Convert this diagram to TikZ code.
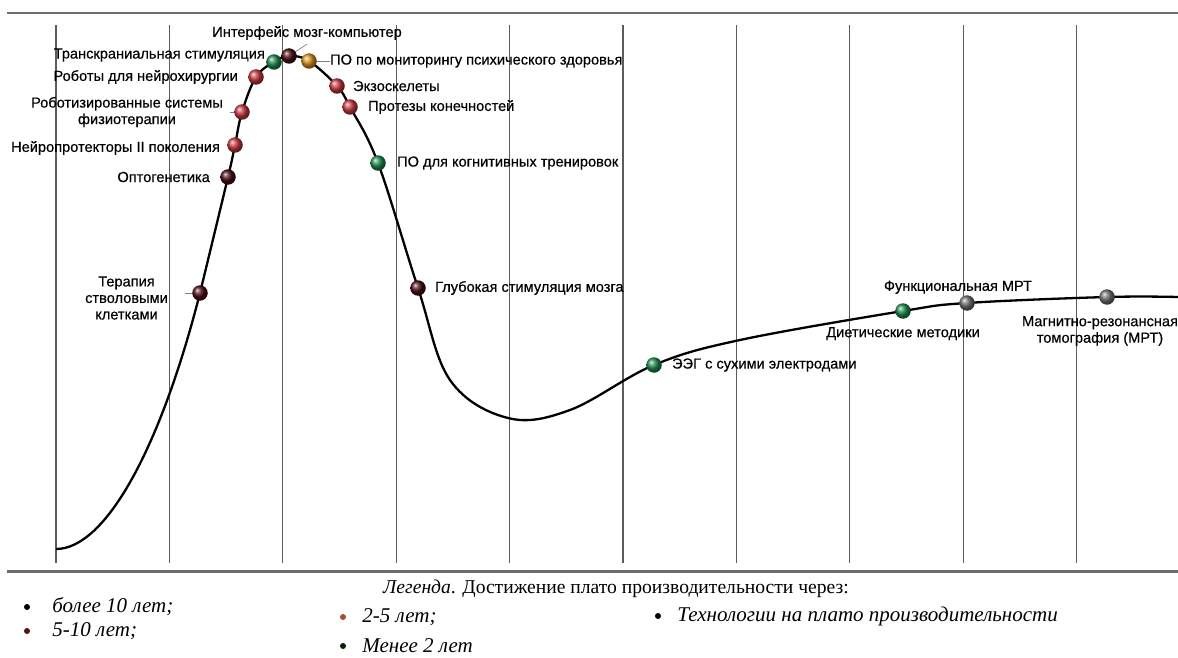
\documentclass[tikz,border=0pt]{standalone}
\usepackage{fontspec}
\setmainfont{Liberation Serif}
\newfontfamily\labelfont[FakeBold=0.4]{Liberation Sans}
\usetikzlibrary{positioning, backgrounds}
\definecolor{gridgray}{HTML}{5C5C5C}
\definecolor{dotdark}{HTML}{4A0C12}
\definecolor{dotred}{HTML}{C93A40}
\definecolor{dotgreen}{HTML}{1E8C4E}
\definecolor{dotorange}{HTML}{D8921C}
\definecolor{dotgray}{HTML}{707070}
\definecolor{legred}{HTML}{5A0F14}
\definecolor{legbrown}{HTML}{A0522D}
\tikzset{
  gridline/.style={gridgray, line width=1.1pt},
  rule/.style={gray!85!black, line width=2pt},
  hype/.style={black, line width=2.3pt, line join=round},
  ball/.style={circle, minimum size=15.5pt, inner sep=0pt, shading=ball},
  darkball/.style={ball, ball color=dotdark},
  redball/.style={ball, ball color=dotred},
  greenball/.style={ball, ball color=dotgreen},
  orangeball/.style={ball, ball color=dotorange},
  grayball/.style={ball, ball color=dotgray},
  lbl/.style={font=\labelfont\fontsize{14.6}{16.5}\selectfont, inner sep=0pt, align=center},
  leader/.style={gray, line width=0.7pt},
  legdot/.style={circle, minimum size=6pt, inner sep=0pt},
  legtext/.style={font=\itshape\fontsize{21}{24}\selectfont, inner sep=0pt}
}
\begin{document}
\begin{tikzpicture}[x=1pt, y=-1pt]
  \useasboundingbox (0,0) rectangle (1178,658);

  % technologies on the curve
  \node[darkball]   (dstem)  at (200,293) {};
  \node[darkball]   (dopto)  at (228,177) {};
  \node[redball]    (dneuro) at (235,145) {};
  \node[redball]    (dphys)  at (242,112) {};
  \node[redball]    (drob)   at (256,77)  {};
  \node[greenball]  (dtrans) at (274,62)  {};
  \node[darkball]   (dbci)   at (289,56)  {};
  \node[orangeball] (dmon)   at (309,61)  {};
  \node[redball]    (dexo)   at (337,86)  {};
  \node[redball]    (dprot)  at (350,107) {};
  \node[greenball]  (dcog)   at (378,163) {};
  \node[darkball]   (ddbs)   at (418,288) {};
  \node[greenball]  (deeg)   at (654,365) {};
  \node[greenball]  (dfood)  at (903,311) {};
  \node[grayball]   (dfmri)  at (967,303) {};
  \node[grayball]   (dmri)   at (1107,297) {};

  \node[lbl, anchor=east] (lstem) at (168,298) {Терапия\\стволовыми\\клетками};
  \node[lbl, left=10pt of dopto]  (lopto)  {Оптогенетика};
  \node[lbl, left=7pt of dneuro, yshift=-3pt] (lneuro) {Нейропротекторы II поколения};
  \node[lbl, left=11pt of dphys] (lphys) {Роботизированные системы\\физиотерапии};
  \node[lbl, left=10pt of drob]   (lrob)   {Роботы для нейрохирургии};
  \node[lbl, left=1pt of dtrans, yshift=7pt] (ltrans) {Транскраниальная стимуляция};
  \node[lbl] (lbci) at (307,33) {Интерфейс мозг-компьютер};
  \node[lbl, right=13pt of dmon]  (lmon)  {ПО по мониторингу психического здоровья};
  \node[lbl, right=8pt of dexo]   (lexo)  {Экзоскелеты};
  \node[lbl, right=10pt of dprot] (lprot) {Протезы конечностей};
  \node[lbl, right=11pt of dcog]  (lcog)  {ПО для когнитивных тренировок};
  \node[lbl, right=9pt of ddbs]   (ldbs)  {Глубокая стимуляция мозга};
  \node[lbl, right=10pt of deeg]  (leeg)  {ЭЭГ с сухими электродами};
  \node[lbl, below=8pt of dfood]  (lfood) {Диетические методики};
  \node[lbl, above=1pt of dfmri, xshift=-9pt] (lfmri) {Функциональная МРТ};
  \node[lbl, below=11pt of dmri, xshift=-7pt] (lmri) {Магнитно-резонансная\\томография (МРТ)};

  % legend
  \node[font=\fontsize{19.6}{22}\selectfont, inner sep=0pt, anchor=west] (legtitle) at (383,589)
        {\textit{Легенда}. Достижение плато производительности через:};
  \node[legdot, fill=black]     (b1) at (27,607) {};
  \node[legdot, fill=legred]    (b2) at (27,631) {};
  \node[legdot, fill=legbrown]  (b3) at (343,617) {};
  \node[legdot, fill=black!85!green] (b4) at (343,646) {};
  \node[legdot, fill=black]     (b5) at (658,616) {};
  \node[legtext, right=22pt of b1] (t1) {более 10 лет;};
  \node[legtext, right=22pt of b2] (t2) {5-10 лет;};
  \node[legtext, right=16pt of b3] (t3) {2-5 лет;};
  \node[legtext, right=16pt of b4] (t4) {Менее 2 лет};
  \node[legtext, right=16pt of b5] (t5) {Технологии на плато производительности};

  \begin{scope}[on background layer]
    \fill[white] (0,0) rectangle (1178,658);
    \foreach \i in {0,...,9}
      \draw[gridline] ({56+113.4*\i},25) -- ({56+113.4*\i},563);
    \draw[rule] (7,13) -- (1178,13);
    \draw[rule, line width=3pt] (7,571) -- (1178,571);
    \draw[hype] (56,549) .. controls (105,549) and (160,450) .. (dstem.center);
    \draw[hype] plot[smooth, tension=0.6] coordinates {
      (dstem.center) (dopto.center)
      (dneuro.center) (dphys.center) (drob.center) (dtrans.center) (dbci.center)
      (dmon.center) (dexo.center) (dprot.center) (dcog.center) (ddbs.center)
      (450,380) (508,418) (570,410) (deeg.center)
      (740,340) (dfood.center) (dfmri.center) (dmri.center) (1178,297)};
    \draw[leader] (dbci.center) -- ([yshift=-4pt]lbci.south);
    \draw[leader] (dmon.center) -- (lmon.west);
    \draw[leader] (dphys.center) -- ++(-12,0);
    \draw[leader] (dstem.center) -- ++(-15,0);
  \end{scope}
\end{tikzpicture}
\end{document}
